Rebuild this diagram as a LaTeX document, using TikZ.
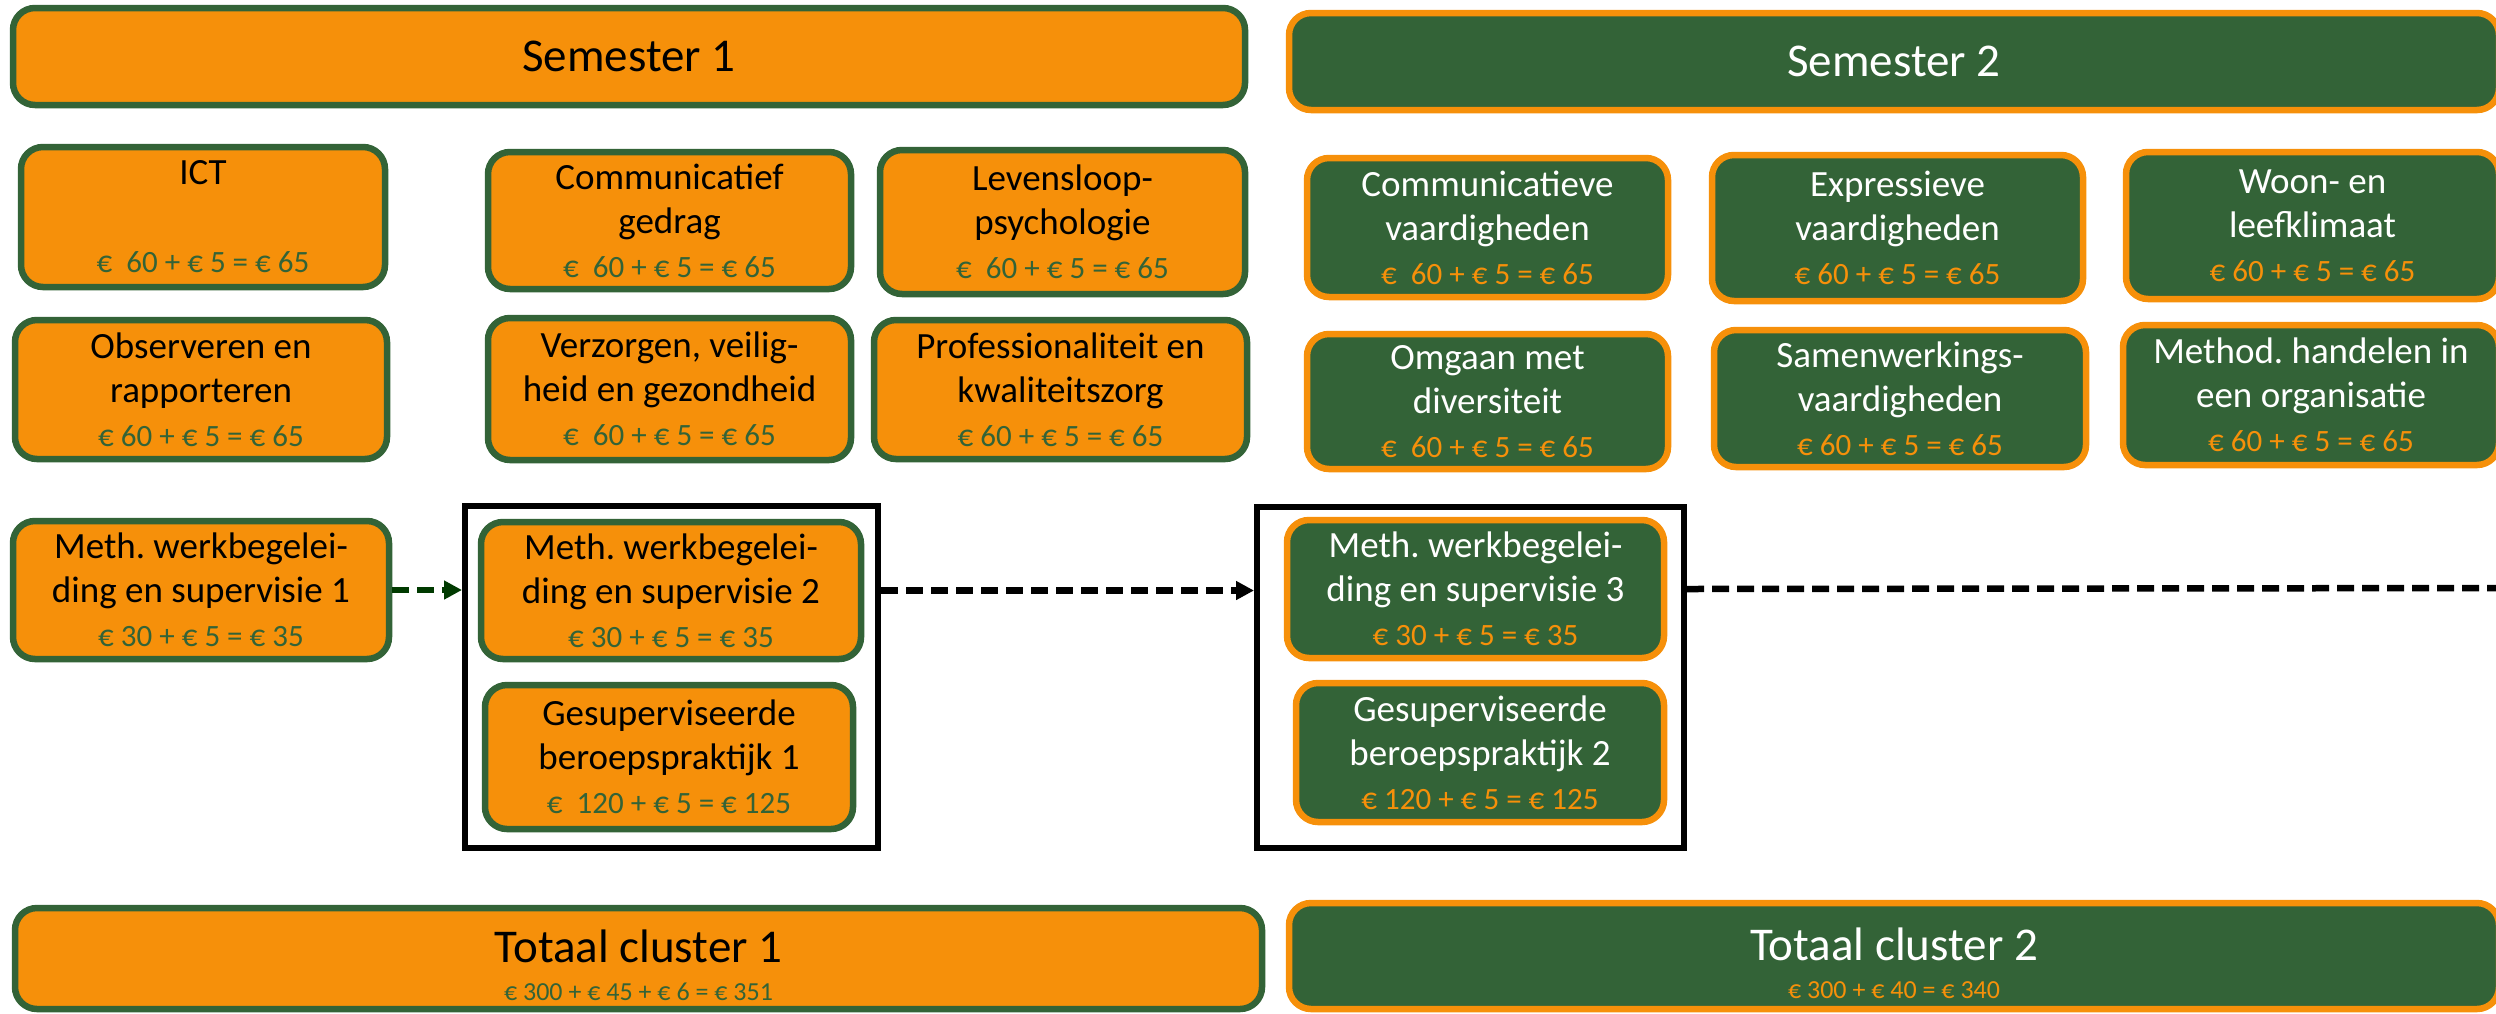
\documentclass[tikz,border=0pt]{standalone}
\usepackage{fontspec}
\setmainfont{Carlito}
\usepackage{xcolor}
\usepackage{tikz}
\usetikzlibrary{arrows.meta}
\definecolor{oranje}{RGB}{246,144,10}
\definecolor{groen}{RGB}{51,99,55}
\definecolor{donkergroen}{RGB}{0,58,0}
\newcommand{\prijsG}[1]{{\fontsize{31}{44}\selectfont\color{groen}#1}}
\newcommand{\prijsO}[1]{{\fontsize{31}{44}\selectfont\color{oranje}#1}}

\begin{document}
\begin{tikzpicture}[x=1pt,y=-1pt,
    vakO/.style={draw=groen, fill=oranje, line width=6.5pt, rounded corners=22pt,
        inner sep=0pt, align=flush center, text width=350pt, text=black,
        font=\fontsize{37}{44}\selectfont\frenchspacing},
    vakG/.style={vakO, draw=oranje, fill=groen, text=white},
    kop/.style={text width=1150pt, font=\fontsize{47}{56}\selectfont},
    totaal/.style={text width=1150pt, font=\fontsize{47}{38}\selectfont},
    blok/.style={draw=black, line width=6pt, inner sep=0pt},
    pijlgroen/.style={draw=donkergroen, line width=6.5pt, dash pattern=on 17pt off 8pt,
        -{Triangle[length=18pt,width=18pt]}},
    pijlzwart/.style={pijlgroen, draw=black},
    lijnzwart/.style={draw=black, line width=6.5pt, dash pattern=on 17pt off 8pt}]
    \useasboundingbox (0,0) rectangle (2496,1013);
    \clip (0,0) rectangle (2496,1013);

    \coordinate (rand) at (2510,588);

    \node[blok, minimum width=413pt, minimum height=342pt] (blok1) at (671.5,677) {};
    \node[blok, minimum width=427pt, minimum height=341pt] (blok2) at (1470.5,677.5) {};

    \node[vakO, kop, minimum width=1232pt, minimum height=97pt] (sem1) at (629,56.5) {Semester 1};
    \node[vakG, kop, minimum width=1210pt, minimum height=97pt] (sem2) at (1894,61.5) {Semester 2};

    \node[vakO, minimum width=364pt, minimum height=140pt] (ict) at (203,217)
        {ICT\\~\\\prijsG{€\ \ 60 + € 5 = € 65}};
    \node[vakO, minimum width=363pt, minimum height=137pt] (comg) at (669.5,220.5)
        {Communicatief\\gedrag\\\prijsG{€\ \ 60 + € 5 = € 65}};
    \node[vakO, minimum width=365pt, minimum height=144pt] (leven) at (1062.5,222)
        {Levensloop-\\psychologie\\\prijsG{€\ \ 60 + € 5 = € 65}};
    \node[vakO, minimum width=372pt, minimum height=139pt] (obs) at (201,389.5)
        {Observeren en\\rapporteren\\\prijsG{€ 60 + € 5 = € 65}};
    \node[vakO, minimum width=363pt, minimum height=142pt] (verz) at (669.5,389)
        {Verzorgen, veilig-\\heid en gezondheid\\\prijsG{€\ \ 60 + € 5 = € 65}};
    \node[vakO, minimum width=373pt, minimum height=139pt] (prof) at (1060.5,389.5)
        {Professionaliteit en\\kwaliteitszorg\\\prijsG{€ 60 + € 5 = € 65}};

    \node[vakG, minimum width=361pt, minimum height=139pt] (comv) at (1487.5,227.5)
        {Communicatieve\\vaardigheden\\\prijsO{€\ \ 60 + € 5 = € 65}};
    \node[vakG, minimum width=371pt, minimum height=146pt] (expr) at (1897.5,228)
        {Expressieve\\vaardigheden\\\prijsO{€ 60 + € 5 = € 65}};
    \node[vakG, minimum width=373pt, minimum height=147pt] (woon) at (2312.5,225.5)
        {Woon- en\\leefklimaat\\\prijsO{€ 60 + € 5 = € 65}};
    \node[vakG, minimum width=361pt, minimum height=135pt] (omg) at (1487.5,401.5)
        {Omgaan met\\diversiteit\\\prijsO{€\ \ 60 + € 5 = € 65}};
    \node[vakG, minimum width=372pt, minimum height=137pt] (samw) at (1900,398.5)
        {Samenwerkings-\\vaardigheden\\\prijsO{€ 60 + € 5 = € 65}};
    \node[vakG, minimum width=376pt, minimum height=140pt] (methh) at (2311,395)
        {Method. handelen in\\een organisatie\\\prijsO{€ 60 + € 5 = € 65}};

    \node[vakO, minimum width=376pt, minimum height=138pt] (mwb1) at (201,590)
        {Meth. werkbegelei-\\ding en supervisie 1\\\prijsG{€ 30 + € 5 = € 35}};
    \node[vakO, minimum width=380pt, minimum height=137pt] (mwb2) at (671,590.5)
        {Meth. werkbegelei-\\ding en supervisie 2\\\prijsG{€ 30 + € 5 = € 35}};
    \node[vakO, minimum width=368pt, minimum height=144pt] (gbp1) at (669,757)
        {Gesuperviseerde\\beroepspraktijk 1\\\prijsG{€\ \ 120 + € 5 = € 125}};
    \node[vakG, minimum width=377pt, minimum height=138pt] (mwb3) at (1475.5,589)
        {Meth. werkbegelei-\\ding en supervisie 3\\\prijsO{€ 30 + € 5 = € 35}};
    \node[vakG, minimum width=368pt, minimum height=139pt] (gbp2) at (1480,752.5)
        {Gesuperviseerde\\beroepspraktijk 2\\\prijsO{€ 120 + € 5 = € 125}};

    \node[vakO, totaal, minimum width=1247pt, minimum height=101pt] (tot1) at (638.5,958.5)
        {\rule{0pt}{47pt}Totaal cluster 1\\{\fontsize{26}{38}\selectfont\color{groen}€ 300 + € 45 + € 6 = € 351}};
    \node[vakG, totaal, minimum width=1210pt, minimum height=106pt] (tot2) at (1894,956)
        {\rule{0pt}{47pt}Totaal cluster 2\\{\fontsize{26}{38}\selectfont\color{oranje}€ 300 + € 40 = € 340}};

    \draw[pijlgroen] (mwb1.east) -- (mwb1.east -| blok1.west);
    \draw[pijlzwart] (mwb2.east -| blok1.east) -- (mwb2.east -| blok2.west);
    \draw[lijnzwart] (mwb3.east -| blok2.east) -- (rand);
\end{tikzpicture}
\end{document}
